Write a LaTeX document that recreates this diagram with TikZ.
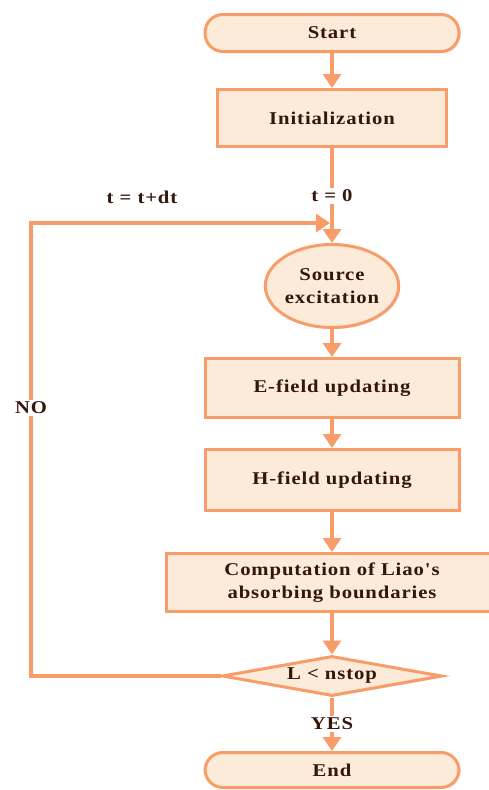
\documentclass[tikz,border=0pt]{standalone}
\usepackage{fontspec}
\setmainfont{Liberation Serif}[LetterSpace=5, FakeStretch=1.15, Ligatures=TeXOff]
\usetikzlibrary{shapes.geometric,arrows.meta,shadows}
\definecolor{edge}{HTML}{F89D6A}
\definecolor{paper}{HTML}{FCEBD8}
\definecolor{ink}{HTML}{33170B}
\definecolor{shade}{HTML}{C9D5E6}

\tikzset{
  shapebase/.style={draw=edge, fill=paper, line width=3pt, inner sep=0pt,
    align=center, text=ink,
    drop shadow={shadow xshift=1.5pt, shadow yshift=-1.5pt, fill=shade, opacity=0.6}},
  terminal/.style={shapebase, rectangle, rounded corners=18pt},
  process/.style={shapebase, rectangle},
  oval/.style={shapebase, ellipse},
  decision/.style={shapebase, diamond, shape aspect=5},
  flowlabel/.style={fill=white, inner sep=2pt, text=ink},
  link/.style={draw=edge, line width=3.5pt},
  arrow/.style={link, -{Triangle[length=14pt,width=18pt]}},
}

\begin{document}
\begin{tikzpicture}[x=1pt, y=-1pt, font=\fontsize{18}{23}\selectfont\bfseries]
\useasboundingbox (0,0) rectangle (488,790);

% main column
\node[terminal, minimum width=254pt, minimum height=37pt] (start) at (332,33) {Start};
\node[process, minimum width=229pt, minimum height=57pt] (init) at (332,118) {Initialization};
\node[oval, minimum width=126pt, minimum height=83pt] (source) at (332,286) {Source\\excitation};
\node[process, minimum width=254pt, minimum height=59pt] (efield) at (332,388) {E-field updating};
\node[process, minimum width=254pt, minimum height=61pt] (hfield) at (332,480) {H-field updating};
\node[process, minimum width=331pt, minimum height=58pt] (liao) at (332,582.5) {Computation of Liao's\\absorbing boundaries};
\node[decision, minimum width=220pt, minimum height=40pt] (check) at (332,676) {L < nstop};
\node[terminal, minimum width=254pt, minimum height=35pt] (stop) at (332,770) {End};

% loop-back corner points
\coordinate (loopbottom) at (31,676);
\coordinate (looptop) at (31,223);
\coordinate (join) at (330,223);

% connectors
\draw[arrow] (start) -- (init);
\draw[arrow] (init) -- (source);
\draw[arrow] (source) -- (efield);
\draw[arrow] (efield) -- (hfield);
\draw[arrow] (hfield) -- (liao);
\draw[arrow] (liao) -- (check);
\draw[arrow] (check) -- (stop);
\draw[arrow] (check.west) -- (loopbottom) -- (looptop) -- (join);

% edge labels
\node[flowlabel] (tzero) at (332,196) {t = 0};
\node[flowlabel] (tstep) at (142,197) {t = t+dt};
\node[flowlabel] (nolabel) at (31,408) {NO};
\node[flowlabel] (yeslabel) at (332,724) {YES};
\end{tikzpicture}
\end{document}
